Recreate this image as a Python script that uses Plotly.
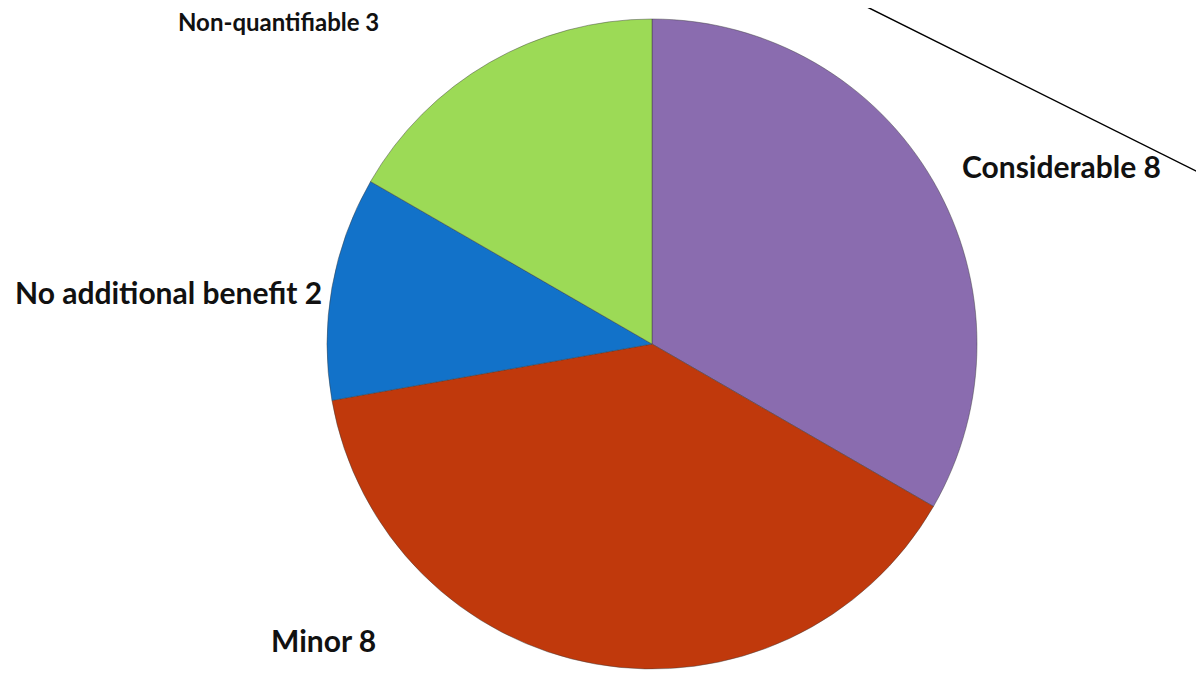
import plotly.graph_objects as go

# Data
categories = ["Considerable", "Minor", "No additional benefit", "Non-quantifiable"]
slice_values = [6, 7, 2, 3]          # slice sizes as drawn (angles)
label_counts = [8, 8, 2, 3]          # counts printed in the labels
colors = ["#8A6CAF", "#C0390C", "#1272C9", "#9CDA56"]

# page offset (browser body margin) -> work in window pixels
OFF = 8
W, H = 1204 - OFF, 676 - OFF

def px(x):
    return (x - OFF) / W

def py(y):
    return 1 - (y - OFF) / H

# label centres in window pixels and font sizes
label_px = [(1061, 166), (323, 640), (168, 292), (278, 21)]
label_size = [30, 30, 30, 24]

cx, cy, r = 652, 344, 325

fig = go.Figure(go.Pie(
    labels=categories,
    values=slice_values,
    sort=False,
    direction="clockwise",
    rotation=0,
    textinfo="none",
    hoverinfo="label+value",
    marker=dict(colors=colors, line=dict(color="rgba(60,60,60,0.45)", width=1)),
    domain=dict(x=[px(cx - r), px(cx + r)], y=[py(cy + r), py(cy - r)]),
    showlegend=False,
))

for cat, cnt, (lx, ly), fs in zip(categories, label_counts, label_px, label_size):
    fig.add_annotation(
        x=px(lx), y=py(ly), xref="paper", yref="paper",
        text=f"<b>{cat} {cnt}</b>", showarrow=False,
        xanchor="center", yanchor="middle",
        font=dict(family="Lato, Open Sans, sans-serif", size=fs, color="#111111"),
    )

# stray diagonal line in the upper right
fig.add_shape(type="line", xref="paper", yref="paper",
              x0=px(853), y0=py(0), x1=px(1206), y1=py(176),
              line=dict(color="black", width=1.5))

fig.update_layout(
    width=W, height=H,
    margin=dict(l=0, r=0, t=0, b=0),
    paper_bgcolor="white", plot_bgcolor="white",
)

fig.write_html("out.html")
